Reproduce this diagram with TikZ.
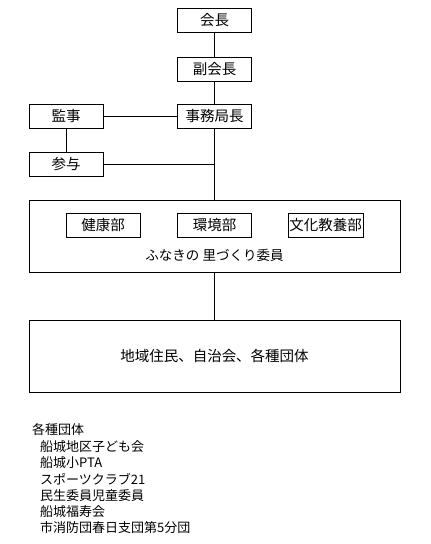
\documentclass[tikz,border=0pt]{standalone}
\usepackage{fontspec}
\setmainfont{Noto Sans CJK JP}
\usetikzlibrary{positioning}
\tikzset{
    post/.style={draw, line width=0.8pt, minimum width=74pt, minimum height=24pt,
                 inner sep=0pt, font=\fontsize{14.5}{16}\selectfont},
    dept/.style={post},
    group/.style={draw, line width=0.8pt, minimum width=371pt, minimum height=72pt,
                  inner sep=0pt, font=\fontsize{14.5}{16}\selectfont},
    link/.style={-, line width=0.8pt},
    listitem/.style={anchor=west, inner sep=0pt, font=\fontsize{13}{15}\selectfont},
}
\begin{document}
\begin{tikzpicture}[x=1pt, y=-1pt]
    \useasboundingbox (0,0) rectangle (431,544);
    % Officers
    \node[post] (kaicho) at (214.5,20.5) {会長};
    \node[post] (fukukaicho) at (214.5,69) {副会長};
    \node[post] (jimukyoku) at (214.5,116) {事務局長};
    \node[post] (kanji) at (66,116) {監事};
    \node[post] (sanyo) at (66,164.5) {参与};
    \coordinate (junction) at (214.5,164.5);
    % Committee
    \node[group] (iinkai) at (214.5,236) {};
    \node[dept] (kenko) at (103,225) {健康部};
    \node[dept] (kankyo) at (214.5,225) {環境部};
    \node[dept, minimum width=75pt] (bunka) at (325.5,225) {文化教養部};
    \node[font=\fontsize{13.5}{15}\selectfont, inner sep=0pt] (iinkailabel) at (214.5,255) {ふなきの 里づくり委員};
    % Residents
    \node[group] (jumin) at (214.5,356) {地域住民、自治会、各種団体};
    % Connectors
    \draw[link] (kaicho) -- (fukukaicho);
    \draw[link] (fukukaicho) -- (jimukyoku);
    \draw[link] (jimukyoku) -- (iinkai);
    \draw[link] (iinkai) -- (jumin);
    \draw[link] (kanji) -- (jimukyoku);
    \draw[link] (kanji) -- (sanyo);
    \draw[link] (sanyo) -- (junction);
    % Member groups
    \node[listitem] (dantai) at (32,430) {各種団体};
    \node[listitem] (kodomo) at (40,446.5) {船城地区子ども会};
    \node[listitem] (pta) at (40,463) {船城小PTA};
    \node[listitem] (sports) at (40,479.5) {スポーツクラブ21};
    \node[listitem] (minsei) at (40,496) {民生委員児童委員};
    \node[listitem] (fukuju) at (40,512) {船城福寿会};
    \node[listitem] (shobo) at (40,528) {市消防団春日支団第5分団};
\end{tikzpicture}
\end{document}
